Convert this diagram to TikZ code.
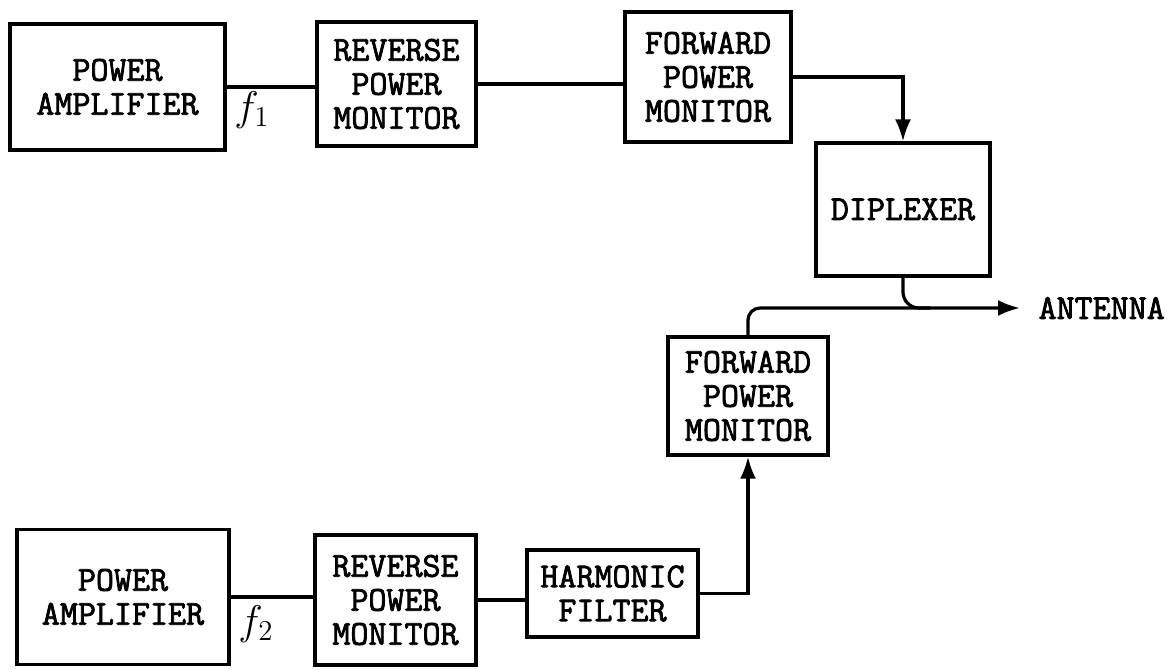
\documentclass[tikz,border=0pt]{standalone}
\usepackage{fontspec}
\newfontfamily\typewr{Latin Modern Mono}[FakeBold=2.2]
\usetikzlibrary{positioning, arrows.meta, calc}

\tikzset{
  blk/.style={draw, line width=1.6pt, align=center, inner sep=0pt,
    font=\typewr\fontsize{17.5}{17}\selectfont},
  wire/.style={line width=1.6pt},
  flab/.style={font=\fontsize{21}{24}\selectfont, inner sep=0pt},
}

\begin{document}
\begin{tikzpicture}[x=0.5pt, y=-0.5pt, >={Latex[length=11pt,width=8pt]}]
			\useasboundingbox (0,0) rectangle (1172,669);
			
			% Catena f1
			\node[blk, minimum width=107.5pt, minimum height=63pt] (paone) at (117.5,87) {POWER\\AMPLIFIER};
			\node[blk, minimum width=79.5pt, minimum height=62pt] (revone) at (396.5,84) {REVERSE\\POWER\\MONITOR};
			\node[blk, minimum width=83pt, minimum height=65pt] (fwdone) at (708,77) {FORWARD\\POWER\\MONITOR};
			\node[blk, minimum width=87pt, minimum height=66.5pt] (dip) at (903,209.5) {DIPLEXER};
			\node[flab] (fone) at (252,110) {$f_1$};
			
			% Catena f2
			\node[blk, minimum width=106pt, minimum height=67.5pt] (patwo) at (123,597) {POWER\\AMPLIFIER};
			\node[blk, minimum width=80.5pt, minimum height=65pt] (revtwo) at (395.5,600) {REVERSE\\POWER\\MONITOR};
			\node[blk, minimum width=85.5pt, minimum height=43.5pt] (harm) at (612.5,593.5) {HARMONIC\\FILTER};
			\node[blk, minimum width=80pt, minimum height=59pt] (fwdtwo) at (748,396) {FORWARD\\POWER\\MONITOR};
			\node[flab] (ftwo) at (256,624) {$f_2$};
			
			% Antenna
			\node[blk, draw=none, anchor=west] (ant) at (1037,308) {ANTENNA};
			\coordinate (join) at (930,308);
			
			% Collegamenti
			\draw[wire] (paone.east) -- (revone.west |- paone.east);
			\draw[wire] (revone.east) -- (fwdone.west |- revone.east);
			\draw[wire, ->] (fwdone.east) -| (dip.north);
			\draw[wire] (patwo.east) -- (revtwo.west |- patwo.east);
			\draw[wire] (revtwo.east) -- (harm.west |- revtwo.east);
			\draw[wire, ->] (harm.east) -| (fwdtwo.south);
			\draw[wire, ->, rounded corners=6pt, shorten >=8.5pt] (fwdtwo.north) |- (ant.west);
			\draw[wire, rounded corners=8pt] (dip.south) |- (join);
		\end{tikzpicture}
\end{document}
